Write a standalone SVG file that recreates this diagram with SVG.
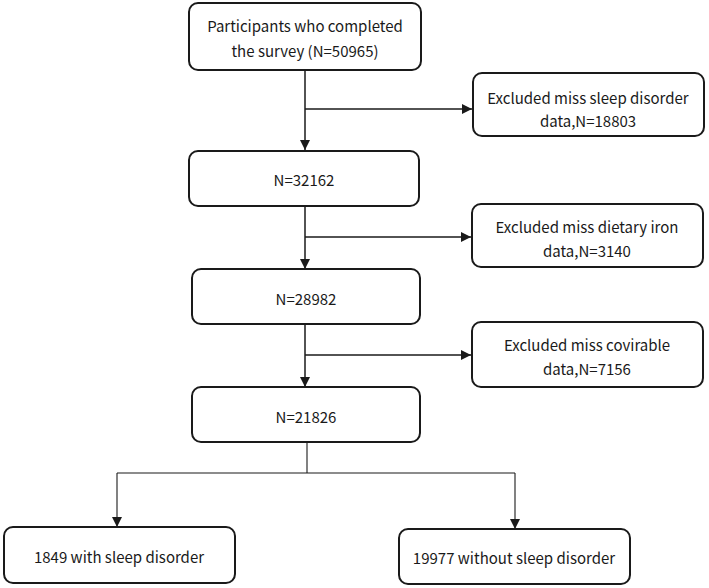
<svg xmlns="http://www.w3.org/2000/svg" width="709" height="588" viewBox="0 0 709 588">
  <style>
    .box { fill: #ffffff; stroke: #1a1a1a; stroke-width: 2; }
    .lbl { font-family: "Noto Sans CJK SC", "Noto Sans", "Liberation Sans", sans-serif; font-size: 15px; fill: #1a1a1a; text-anchor: middle; dominant-baseline: central; }
    .link { fill: none; stroke: #1a1a1a; stroke-width: 1.5; }
    .thin { fill: none; stroke: #1a1a1a; stroke-width: 1.1; }
  </style>
  <defs>
    <marker id="arrow" viewBox="0 0 10 10" refX="10" refY="5" markerWidth="10" markerHeight="10" markerUnits="userSpaceOnUse" orient="auto">
      <path d="M0,0 L10,5 L0,10 Z" fill="#1a1a1a"/>
    </marker>
  </defs>

  <rect width="709" height="588" fill="#ffffff"/>

  <!-- connectors: main flow, exclusion branches, final split -->
  <g id="connectors">
    <line class="link" x1="305" y1="70" x2="305" y2="150" marker-end="url(#arrow)"/>
    <line class="link" x1="305" y1="109" x2="472" y2="109" marker-end="url(#arrow)"/>
    <line class="link" x1="305" y1="206" x2="305" y2="269" marker-end="url(#arrow)"/>
    <line class="link" x1="305" y1="237" x2="471" y2="237" marker-end="url(#arrow)"/>
    <line class="link" x1="305" y1="324" x2="305" y2="387" marker-end="url(#arrow)"/>
    <line class="link" x1="305" y1="355" x2="471" y2="355" marker-end="url(#arrow)"/>
    <line class="thin" x1="307" y1="442" x2="307" y2="473"/>
    <line class="thin" x1="117" y1="473" x2="515" y2="473"/>
    <line class="thin" x1="117" y1="473" x2="117" y2="527" marker-end="url(#arrow)"/>
    <line class="thin" x1="515" y1="473" x2="515" y2="529" marker-end="url(#arrow)"/>
  </g>

  <g id="n-survey">
    <rect class="box" x="189" y="3" width="232" height="67" rx="9"/>
    <text class="lbl" x="305" y="25">Participants who completed</text>
    <text class="lbl" x="305" y="50">the survey (N=50965)</text>
  </g>

  <g id="n-excl-sleep">
    <rect class="box" x="473" y="73" width="231" height="63" rx="9"/>
    <text class="lbl" x="588" y="97">Excluded miss sleep disorder</text>
    <text class="lbl" x="588" y="120">data,N=18803</text>
  </g>

  <g id="n-32162">
    <rect class="box" x="189" y="151" width="230" height="55" rx="9"/>
    <text class="lbl" x="304" y="179">N=32162</text>
  </g>

  <g id="n-excl-iron">
    <rect class="box" x="472" y="204" width="231" height="63" rx="9"/>
    <text class="lbl" x="587" y="226">Excluded miss dietary iron</text>
    <text class="lbl" x="587" y="250">data,N=3140</text>
  </g>

  <g id="n-28982">
    <rect class="box" x="192" y="269" width="228" height="55" rx="9"/>
    <text class="lbl" x="306" y="298">N=28982</text>
  </g>

  <g id="n-excl-cov">
    <rect class="box" x="472" y="322" width="231" height="65" rx="9"/>
    <text class="lbl" x="587" y="344">Excluded miss covirable</text>
    <text class="lbl" x="587" y="368">data,N=7156</text>
  </g>

  <g id="n-21826">
    <rect class="box" x="192" y="387" width="228" height="55" rx="9"/>
    <text class="lbl" x="306" y="416">N=21826</text>
  </g>

  <g id="n-with">
    <rect class="box" x="4" y="527" width="231" height="56" rx="9"/>
    <text class="lbl" x="119" y="556">1849 with sleep disorder</text>
  </g>

  <g id="n-without">
    <rect class="box" x="399" y="529" width="231" height="55" rx="9"/>
    <text class="lbl" x="514" y="557">19977 without sleep disorder</text>
  </g>
</svg>
